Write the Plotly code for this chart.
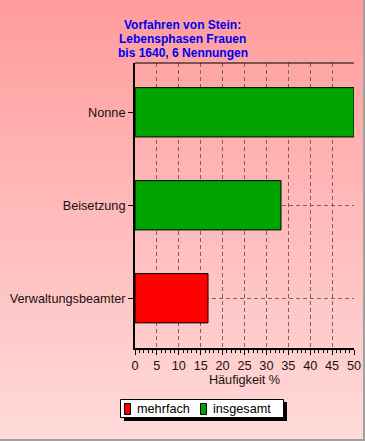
import base64
import struct
import zlib

import plotly.graph_objects as go

# ---- data ----
categories = ["Verwaltungsbeamter", "Beisetzung", "Nonne"]
mehrfach = [16.67, None, None]
insgesamt = [None, 33.33, 50.0]
x_ticks = [0, 5, 10, 15, 20, 25, 30, 35, 40, 45, 50]
title_lines = ["Vorfahren von Stein:", "Lebensphasen Frauen", "bis 1640, 6 Nennungen"]
series_names = ["mehrfach", "insgesamt"]
series_colors = ["#FF0000", "#00A400"]

W, H = 365, 441
L, R, T, B = 135, 354, 63, 348  # plot area in pixels
PW, PH = R - L, B - T


def make_png(w, h):
    top = (255, 156, 156)
    bot = (255, 218, 218)
    gray = (160, 160, 160)
    rows = []
    for y in range(h):
        t = y / (h - 1)
        c = tuple(int(round(top[i] + (bot[i] - top[i]) * t)) for i in range(3))
        if y >= h - 2:
            row = bytes(gray) * w
        else:
            row = bytes(c) * (w - 2) + bytes(gray) * 2
        rows.append(b"\x00" + row)
    raw = b"".join(rows)

    def chunk(tag, data):
        return (struct.pack(">I", len(data)) + tag + data
                + struct.pack(">I", zlib.crc32(tag + data) & 0xffffffff))

    png = b"\x89PNG\r\n\x1a\n"
    png += chunk(b"IHDR", struct.pack(">IIBBBBB", w, h, 8, 2, 0, 0, 0))
    png += chunk(b"IDAT", zlib.compress(raw, 9))
    png += chunk(b"IEND", b"")
    return "data:image/png;base64," + base64.b64encode(png).decode()


def px_x(p):
    return (p - L) / PW


def px_y(p):
    return (B - p) / PH


fig = go.Figure()
fig.add_trace(go.Bar(
    y=categories, x=mehrfach, orientation="h", name=series_names[0],
    marker=dict(color=series_colors[0], line=dict(color="black", width=1)),
    width=0.53,
))
fig.add_trace(go.Bar(
    y=categories, x=insgesamt, orientation="h", name=series_names[1],
    marker=dict(color=series_colors[1], line=dict(color="black", width=1)),
    width=0.53,
))

shapes = [
    # top frame line
    dict(type="line", xref="paper", yref="paper",
         x0=0, x1=1, y0=1, y1=1, line=dict(color="black", width=1)),
    # legend shadow
    dict(type="rect", xref="paper", yref="paper",
         x0=px_x(124), x1=px_x(287), y0=px_y(402), y1=px_y(421),
         fillcolor="black", line=dict(width=0)),
    # legend box
    dict(type="rect", xref="paper", yref="paper",
         x0=px_x(120.5), x1=px_x(283.5), y0=px_y(399.5), y1=px_y(417.5),
         fillcolor="white", line=dict(color="black", width=1)),
]
annotations = []
for i, ln in enumerate(title_lines):
    annotations.append(dict(
        text=ln, xref="paper", yref="paper", x=px_x(182.5), y=px_y([25, 39, 52.5][i]),
        xanchor="center", yanchor="middle", showarrow=False,
        font=dict(family="Liberation Sans, Arial, sans-serif", size=12,
                  color="#0000F0", weight="bold"),
    ))

swatch_x = [124, 200]
text_x = [135, 211]
for i, nm in enumerate(series_names):
    shapes.append(dict(
        type="rect", xref="paper", yref="paper",
        x0=px_x(swatch_x[i] + 0.5), x1=px_x(swatch_x[i] + 6.5),
        y0=px_y(403.5), y1=px_y(414.5),
        fillcolor=series_colors[i], line=dict(color="black", width=1)))
    annotations.append(dict(
        text=nm, xref="paper", yref="paper", x=px_x(text_x[i]), y=px_y(408.5),
        xanchor="left", yanchor="middle", showarrow=False,
        font=dict(size=12.7, color="black")))

fig.update_layout(
    width=W, height=H,
    margin=dict(l=L, r=W - R, t=T, b=H - B, pad=0, autoexpand=False),
    paper_bgcolor="#FFC0C0",
    plot_bgcolor="rgba(0,0,0,0)",
    barmode="overlay",
    font=dict(family="Liberation Sans, Arial, sans-serif", size=12.7, color="#1a1010"),
    images=[dict(
        source=make_png(W, H), xref="paper", yref="paper",
        x=px_x(0), y=px_y(0), sizex=W / PW, sizey=H / PH,
        xanchor="left", yanchor="top", sizing="stretch", layer="below",
    )],
    showlegend=False,
    shapes=shapes,
    annotations=annotations,
)

fig.update_xaxes(
    range=[0, 50], tickvals=x_ticks, ticks="outside", ticklen=5, tickcolor="black",
    showline=True, linecolor="black", linewidth=2, automargin=False,
    showgrid=True, gridcolor="#806060", griddash="4px,3px", gridwidth=1,
    zeroline=False,
    minor=dict(dtick=1, ticks="outside", ticklen=3, tickcolor="black", showgrid=False),
    title=dict(text="Häufigkeit %", standoff=3, font=dict(size=12.7)),
    tickfont=dict(size=12.7),
)
fig.update_yaxes(
    range=[-0.535, 2.53], ticks="outside", ticklen=5, tickcolor="black",
    showline=True, linecolor="black", linewidth=2, automargin=False,
    showgrid=True, gridcolor="#806060", griddash="4px,3px", gridwidth=1,
    zeroline=False, tickfont=dict(size=12.7),
)

fig.write_html("out.html", config={"displayModeBar": False},
               post_script="document.body.style.margin='0px';")
